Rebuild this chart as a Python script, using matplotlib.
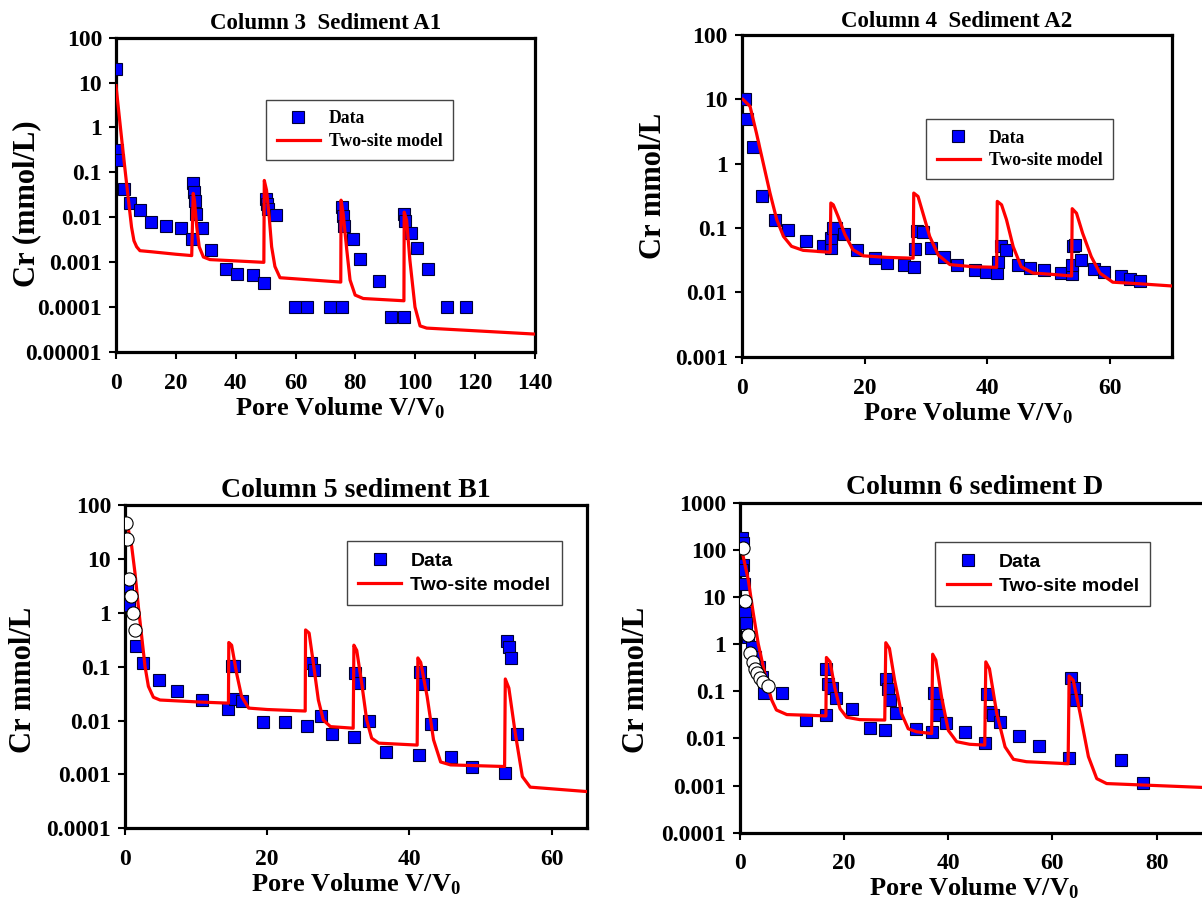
import matplotlib
matplotlib.use('Agg')
import matplotlib.pyplot as plt
from matplotlib.ticker import NullLocator

plt.rcParams['font.family'] = ['Liberation Serif', 'DejaVu Serif']
plt.rcParams['font.weight'] = 'bold'
plt.rcParams['mathtext.fontset'] = 'custom'
plt.rcParams['mathtext.rm'] = 'Liberation Serif:bold'
plt.rcParams['mathtext.bf'] = 'Liberation Serif:bold'
plt.rcParams['mathtext.it'] = 'Liberation Serif:bold'
plt.rcParams['mathtext.default'] = 'bf'

# ---- Column 3, sediment A1 ----
c3_data_v = [0.1, 0.3, 0.8, 2.7, 4.7, 8.0, 11.6, 16.7, 21.8,
             25.6, 26.0, 26.3, 26.7, 25.4, 28.6, 31.7, 36.7, 40.5, 45.7, 49.4,
             50.0, 50.3, 50.8, 53.4, 59.8, 63.7, 71.5, 75.4,
             75.4, 75.7, 76.2, 79.3, 81.5, 87.9, 91.9, 96.2,
             96.3, 96.6, 98.6, 100.5, 104.4, 110.7, 117.1]
c3_data_c = [20, 0.31, 0.19, 0.042, 0.021, 0.0145, 0.008, 0.0065, 0.0059,
             0.057, 0.037, 0.023, 0.012, 0.0032, 0.0058, 0.0019, 0.00069, 0.00054, 0.00052, 0.00035,
             0.026, 0.020, 0.0155, 0.0115, 0.0001, 0.0001, 0.0001, 0.0001,
             0.017, 0.0105, 0.0065, 0.0033, 0.0012, 0.00038, 0.000059, 0.000059,
             0.012, 0.0083, 0.0045, 0.0021, 0.0007, 0.0001, 0.0001]
c3_model_v = [0.0, 2.3, 3.7, 5.2, 6.0, 6.9, 8.0, 12.0, 20.0, 25.3,
              25.8, 26.2, 27.0, 27.8, 29.2, 31.4, 49.4,
              49.55, 50.3, 51.2, 52.0, 53.1, 54.8, 75.1,
              75.2, 75.9, 77.1, 78.2, 79.9, 82.6, 96.2,
              96.3, 97.1, 98.2, 99.9, 101.6, 103.8, 140.0]
c3_model_c = [8.5, 0.31, 0.045, 0.006, 0.003, 0.0022, 0.0018, 0.0017, 0.0015, 0.0014,
              0.034, 0.024, 0.006, 0.0022, 0.0013, 0.00114, 0.00099,
              0.066, 0.04, 0.010, 0.0022, 0.0008, 0.00045, 0.00036,
              0.024, 0.012, 0.0019, 0.0004, 0.000185, 0.000155, 0.000138,
              0.013, 0.0086, 0.0011, 0.0001, 0.000038, 0.000034, 0.000025]

# ---- Column 4, sediment A2 ----
c4_data_v = [0.1, 0.5, 0.8, 1.9, 3.25, 5.4, 7.6, 10.4, 13.2,
             14.6, 14.6, 14.9, 15.4, 16.6, 18.8, 21.7, 23.7, 26.4,
             28.1, 28.2, 28.5, 29.5, 30.8, 32.9, 35.1, 37.9, 39.8,
             41.6, 41.7, 42.2, 43.1, 45.0, 47.0, 49.2, 51.9,
             53.7, 53.8, 54.0, 54.3, 55.2, 57.4, 58.9, 61.8, 63.2, 64.9]
c4_data_c = [10, 10, 4.97, 1.85, 0.31, 0.135, 0.093, 0.064, 0.052,
             0.049, 0.069, 0.10, 0.10, 0.081, 0.046, 0.034, 0.029, 0.027,
             0.025, 0.047, 0.091, 0.087, 0.049, 0.035, 0.027, 0.022, 0.0205,
             0.020, 0.030, 0.053, 0.046, 0.027, 0.024, 0.022, 0.020,
             0.019, 0.027, 0.053, 0.055, 0.032, 0.023, 0.021, 0.018, 0.016, 0.0152]
c4_model_v = [0.2, 1.35, 2.4, 3.5, 4.6, 5.7, 6.8, 8.1, 10.0, 14.4,
              14.5, 14.9, 15.7, 16.8, 18.1, 19.8, 23.6, 27.9,
              28.0, 28.7, 29.5, 30.6, 32.0, 33.9, 37.7, 41.5,
              41.6, 42.3, 43.1, 44.2, 45.5, 47.4, 50.7, 53.7,
              53.8, 54.5, 55.5, 56.9, 58.3, 60.4, 64.8, 69.9]
c4_model_c = [10.0, 7.8, 2.97, 1.02, 0.35, 0.135, 0.074, 0.052, 0.045, 0.042,
              0.245, 0.23, 0.15, 0.079, 0.046, 0.037, 0.035, 0.034,
              0.35, 0.31, 0.17, 0.074, 0.038, 0.027, 0.025, 0.0245,
              0.26, 0.23, 0.135, 0.051, 0.025, 0.020, 0.019, 0.018,
              0.20, 0.17, 0.083, 0.036, 0.020, 0.0144, 0.0136, 0.0126]

# ---- Column 5, sediment B1 ----
c5_data_v = [0.23, 0.6, 1.55, 2.49, 4.84, 7.28, 10.9,
             14.55, 15.0, 15.3, 15.5, 16.4, 19.4, 22.5,
             25.6, 26.2, 26.6, 27.6, 29.1, 32.2, 32.4, 32.9, 34.3,
             36.7, 41.3, 41.5, 41.9, 43.1, 45.9, 48.8,
             53.4, 53.8, 54.0, 54.3, 55.2]
c5_data_c = [3.2, 1.4, 0.24, 0.118, 0.056, 0.035, 0.024,
             0.0162, 0.102, 0.102, 0.025, 0.023, 0.0095, 0.0092,
             0.0079, 0.115, 0.087, 0.0123, 0.0056, 0.005, 0.077, 0.05, 0.01,
             0.0026, 0.0023, 0.079, 0.048, 0.0087, 0.0021, 0.00135,
             0.00105, 0.30, 0.23, 0.145, 0.0056]
c5_open_v = [0.1, 0.33, 0.56, 0.85, 1.08, 1.41]
c5_open_c = [47, 23, 4.2, 2.04, 1.0, 0.48]
c5_model_v = [0.47, 0.94, 1.41, 1.88, 2.35, 2.82, 3.29, 3.99, 4.93, 10.6, 14.55,
              14.6, 15.0, 15.7, 16.4, 17.4, 20.0, 25.35,
              25.4, 25.9, 26.5, 27.2, 27.9, 28.9, 32.1,
              32.2, 32.6, 33.3, 34.0, 34.7, 35.7, 41.1,
              41.2, 41.6, 42.5, 43.4, 44.4, 45.8, 53.4,
              53.5, 54.0, 54.9, 55.9, 57.0, 65.0]
c5_model_c = [35, 17, 5.4, 1.3, 0.36, 0.1, 0.043, 0.027, 0.024, 0.022, 0.021,
              0.28, 0.25, 0.075, 0.028, 0.017, 0.016, 0.015,
              0.48, 0.42, 0.115, 0.024, 0.0102, 0.0077, 0.0072,
              0.25, 0.20, 0.049, 0.0102, 0.0047, 0.0038, 0.0035,
              0.145, 0.12, 0.028, 0.0044, 0.0017, 0.0015, 0.0014,
              0.059, 0.040, 0.0058, 0.00091, 0.00058, 0.00048]

# ---- Column 6, sediment D ----
c6_data_v = [0.3, 0.5, 0.5, 0.3, 0.77, 0.64, 0.96, 1.15, 1.6, 2.24, 2.88, 3.71, 4.16, 4.6,
             8.0, 12.7, 16.6, 16.9, 17.6, 18.4, 16.6, 21.6, 25.0,
             27.8, 28.0, 28.5, 28.9, 29.9, 33.8, 36.9, 37.2, 37.8, 38.1, 39.5,
             43.2, 47.0, 47.4, 48.1, 48.6, 49.9, 53.6, 57.4,
             63.2, 63.5, 64.1, 64.5, 73.1, 77.4]
c6_data_c = [174, 137, 48, 37, 18.6, 7.3, 4.5, 2.75, 1.43, 0.88, 0.54, 0.33, 0.20, 0.093,
             0.09, 0.025, 0.30, 0.14, 0.115, 0.071, 0.031, 0.042, 0.017,
             0.0148, 0.178, 0.11, 0.065, 0.034, 0.016, 0.0138, 0.094, 0.050, 0.031, 0.021,
             0.0138, 0.0078, 0.089, 0.036, 0.031, 0.022, 0.0112, 0.0068,
             0.0039, 0.19, 0.12, 0.065, 0.0035, 0.00114]
c6_open_v = [0.64, 0.96, 1.6, 1.92, 2.43, 2.88, 3.33, 3.84, 4.48, 5.3]
c6_open_c = [107, 8.3, 1.55, 0.66, 0.42, 0.30, 0.24, 0.19, 0.158, 0.13]
c6_model_v = [0.3, 0.64, 1.6, 2.56, 3.5, 4.48, 5.4, 6.1, 7.0, 9.0, 16.5,
              16.6, 17.3, 18.2, 19.2, 20.5, 23.0, 27.8,
              28.0, 28.7, 29.7, 31.0, 32.3, 33.9, 36.8,
              37.0, 37.6, 38.7, 40.0, 41.6, 44.1, 47.0,
              47.2, 47.9, 49.3, 50.9, 52.5, 55.0, 63.0,
              63.2, 64.0, 65.3, 66.9, 68.5, 70.4, 90.0]
c6_model_c = [110, 71, 23, 4.5, 1.03, 0.33, 0.12, 0.065, 0.04, 0.032, 0.030,
              0.52, 0.42, 0.12, 0.043, 0.028, 0.025, 0.0245,
              1.07, 0.81, 0.17, 0.034, 0.016, 0.0138, 0.0127,
              0.61, 0.46, 0.076, 0.0148, 0.0085, 0.0075, 0.0072,
              0.42, 0.30, 0.034, 0.0066, 0.0036, 0.0032, 0.0029,
              0.21, 0.17, 0.034, 0.0041, 0.0014, 0.0011, 0.00090]

BLUE = '#0000FF'
RED = '#FF0000'


def draw_panel(ax, title, title_size, ylabel, ylabel_xy, xlabel_x, xlim, xticks, ylim_exp,
               dv, dc, mv, mc, ov=None, oc=None,
               leg_anchor=(0.4, 0.8), leg_font=None):
    ax.plot(dv, dc, ls='none', marker='s', ms=8.5, mfc=BLUE, mec='#000033',
            mew=0.8, zorder=3, label='Data')
    ax.plot(mv, mc, color=RED, lw=2.3, zorder=4, label='Two-site model')
    if ov is not None:
        ax.plot(ov, oc, ls='none', marker='o', ms=9.5, mfc='white', mec='black',
                mew=0.8, zorder=5)
    ax.set_yscale('log')
    lo, hi = ylim_exp
    ax.set_ylim(10.0 ** lo, 10.0 ** hi)
    yt = [10.0 ** k for k in range(lo, hi + 1)]
    ylabels = [('%.*f' % (-k, 10.0 ** k)) if k < 0 else str(int(10 ** k))
               for k in range(lo, hi + 1)]
    ax.set_yticks(yt, ylabels)
    ax.yaxis.set_minor_locator(NullLocator())
    ax.set_xlim(*xlim)
    ax.set_xticks(xticks)
    ax.tick_params(direction='out', length=5, width=1.5, labelsize=17, pad=5)
    ax.tick_params(axis='x', pad=10)
    for sp in ax.spines.values():
        sp.set_linewidth(2.3)
    ax.set_title(title, fontsize=title_size, fontweight='bold', pad=6)
    ax.set_xlabel('Pore Volume V/V$_0$', fontsize=19, fontweight='bold', labelpad=1)
    ax.xaxis.label.set_x(xlabel_x)
    ax.set_ylabel(ylabel, fontsize=22, fontweight='bold')
    ax.yaxis.set_label_coords(*ylabel_xy)
    fs = leg_font['size'] * 100 / 72.0
    leg = ax.legend(loc='upper left', bbox_to_anchor=leg_anchor, fancybox=False,
                    framealpha=1, edgecolor='#444444', prop=leg_font,
                    handlelength=43 / fs, handletextpad=9 / fs, borderpad=0.6,
                    labelspacing=0.3, borderaxespad=0)
    leg.get_frame().set_linewidth(1.0)


fig = plt.figure(figsize=(12.02, 9.13), dpi=100)

ax1 = fig.add_axes([0.0965, 0.6145, 0.3486, 0.3443])
draw_panel(ax1, 'Column 3  Sediment A1', 16.5, 'Cr (mmol/L)', (-0.178, 0.472), 0.535,
           (0, 140), range(0, 141, 20), (-5, 2),
           c3_data_v, c3_data_c, c3_model_v, c3_model_c,
           leg_anchor=(0.358, 0.802),
           leg_font={'family': 'Liberation Serif', 'weight': 'bold', 'size': 12.7})

ax2 = fig.add_axes([0.6171, 0.6093, 0.3577, 0.3523])
draw_panel(ax2, 'Column 4  Sediment A2', 16.5, 'Cr mmol/L', (-0.171, 0.53), 0.526,
           (0, 70), [0, 20, 40, 60], (-3, 2),
           c4_data_v, c4_data_c, c4_model_v, c4_model_c,
           leg_anchor=(0.429, 0.739),
           leg_font={'family': 'Liberation Serif', 'weight': 'bold', 'size': 12.7})

ax3 = fig.add_axes([0.1040, 0.0928, 0.3844, 0.3541])
draw_panel(ax3, 'Column 5 sediment B1', 20, 'Cr mmol/L', (-0.188, 0.459), 0.5,
           (0, 65), [0, 20, 40, 60], (-4, 2),
           c5_data_v, c5_data_c, c5_model_v, c5_model_c,
           c5_open_v, c5_open_c, leg_anchor=(0.480, 0.889),
           leg_font={'family': 'Liberation Sans', 'weight': 'bold', 'size': 14})

ax4 = fig.add_axes([0.6156, 0.0880, 0.3900, 0.3614])
draw_panel(ax4, 'Column 6 sediment D', 20, 'Cr mmol/L', (-0.19, 0.463), 0.5,
           (0, 90), [0, 20, 40, 60, 80], (-4, 3),
           c6_data_v, c6_data_c, c6_model_v, c6_model_c,
           c6_open_v, c6_open_c, leg_anchor=(0.416, 0.881),
           leg_font={'family': 'Liberation Sans', 'weight': 'bold', 'size': 14})

fig.savefig('out.png', dpi=100)
